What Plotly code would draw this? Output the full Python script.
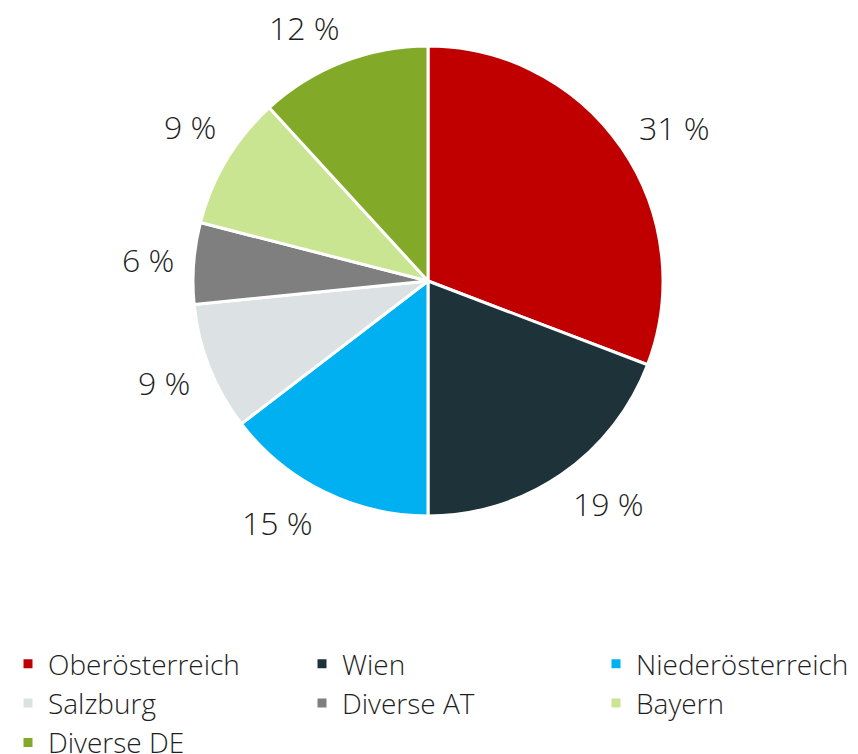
import math
import plotly.graph_objects as go

categories = ["Oberösterreich", "Wien", "Niederösterreich", "Salzburg", "Diverse AT", "Bayern", "Diverse DE"]
values = [30.8, 19.2, 14.6, 8.8, 5.6, 9.2, 11.8]
colors = ["#C00000", "#1E3239", "#00B0F0", "#DCE2E4", "#7F7F7F", "#C9E591", "#82AA28"]
label_text = [f"{round(v)} %" for v in values]

# styling of the outside labels (angle nudges in degrees, like Excel's best fit)
label_angle_nudge = [2.6, -4.4, 5.6, 0.6, 0.0, 2.0, -4.8]
label_gap = 18          # px between pie edge and label box
label_char_w = 17.5     # approx px per character of a label
label_h = 30

# the page body has an 8px margin; figure is a bit larger than the window (excess is off-screen)
OFF = 8
W, H = 880, 770
cx, cy, R = 428 - OFF, 281 - OFF, 235  # pie centre / radius in figure pixels

fig = go.Figure(go.Pie(
    labels=categories,
    values=values,
    sort=False,
    direction="clockwise",
    rotation=0,
    marker=dict(colors=colors, line=dict(color="white", width=3)),
    textinfo="none",
    hoverinfo="label+percent",
    domain=dict(x=[(cx - R) / W, (cx + R) / W], y=[1 - (cy + R) / H, 1 - (cy - R) / H]),
))

total = sum(values)
cum = 0
annotations = []
for v, t, nudge in zip(values, label_text, label_angle_nudge):
    mid = (cum + v / 2) / total * 360 + nudge
    cum += v
    a = math.radians(mid)
    ux, uy = math.sin(a), -math.cos(a)
    bw = len(t) * label_char_w
    r = R + label_gap + bw / 2 * abs(ux) + label_h / 2 * abs(uy)
    px = cx + r * ux
    py = cy + r * uy
    annotations.append(dict(x=px / W, y=1 - py / H, xref="paper", yref="paper",
                            text=t, showarrow=False, xanchor="center", yanchor="middle",
                            font=dict(size=32, color="#1F1F1F", family="Open Sans", weight=300)))

fig.update_layout(
    width=W, height=H,
    margin=dict(l=0, r=0, t=0, b=0, autoexpand=False),
    paper_bgcolor="white", plot_bgcolor="white",
    font=dict(family="Open Sans", color="#1F1F1F"),
    annotations=annotations,
    legend=dict(orientation="h", x=0.0, y=1 - (666 - OFF - 27) / H, xanchor="left", yanchor="top",
                entrywidth=249, entrywidthmode="pixels",
                font=dict(size=28, family="Open Sans", color="#1F1F1F", weight=300),
                traceorder="normal"),
)

fig.write_html("out.html")
